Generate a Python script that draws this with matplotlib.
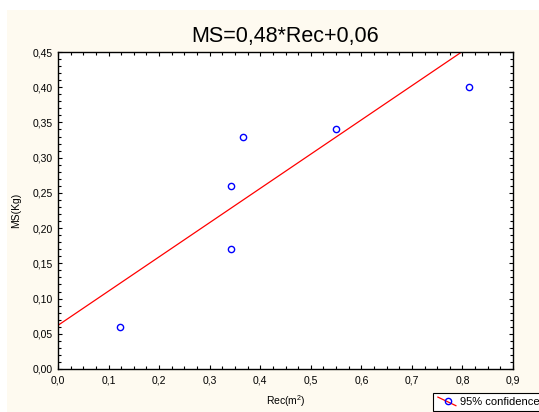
import matplotlib
matplotlib.use("Agg")
import matplotlib.pyplot as plt
import numpy as np
from matplotlib.legend_handler import HandlerBase
from matplotlib.lines import Line2D
from matplotlib.ticker import MultipleLocator, FuncFormatter

# data
rec = [0.123, 0.365, 0.342, 0.343, 0.549, 0.813]
ms = [0.060, 0.330, 0.260, 0.170, 0.340, 0.400]
# fitted line as drawn
slope = 0.486
intercept = 0.062
title = "MS=0,48*Rec+0,06"
legend_label = "95% confidence"

plt.rcParams["font.family"] = ["Liberation Sans", "DejaVu Sans"]
plt.rcParams["mathtext.default"] = "regular"


class DiagHandler(HandlerBase):
    # red diagonal line with a blue open circle, like the original legend key
    def create_artists(self, legend, orig, xd, yd, width, height, fontsize, trans):
        ln = Line2D([xd + 0.05 * width, xd + 0.95 * width],
                    [yd + height * 1.0, yd - height * 0.1],
                    color="red", lw=0.9, transform=trans)
        mk = Line2D([xd + 0.55 * width], [yd + 0.45 * height], marker="o",
                    ls="none", mfc="none", mec="blue", ms=4.5, mew=1.0,
                    transform=trans)
        return [ln, mk]


def comma(fmt):
    return FuncFormatter(lambda v, p: fmt.format(v).replace(".", ","))


def main():
    fig = plt.figure(figsize=(5.39, 4.12), dpi=100, facecolor="white")
    bg = plt.Rectangle((7 / 539, 0), 1, 1 - 10 / 412, transform=fig.transFigure,
                       facecolor="#FEFAF0", edgecolor="none", zorder=-10)
    fig.patches.append(bg)

    ax = fig.add_axes([58 / 539, 1 - 369 / 412, 455 / 539, 317 / 412])
    ax.set_facecolor("white")

    xs = np.array([0.0, 0.9])
    ax.plot(xs, slope * xs + intercept, color="red", lw=0.9)
    ax.plot(rec, ms, ls="none", marker="o", mfc="none", mec="blue",
            ms=4.5, mew=1.0)

    ax.set_xlim(0, 0.9)
    ax.set_ylim(0, 0.45)
    ax.xaxis.set_major_locator(MultipleLocator(0.1))
    ax.xaxis.set_minor_locator(MultipleLocator(0.025))
    ax.yaxis.set_major_locator(MultipleLocator(0.05))
    ax.yaxis.set_minor_locator(MultipleLocator(0.01))
    ax.xaxis.set_major_formatter(comma("{:.1f}"))
    ax.yaxis.set_major_formatter(comma("{:.2f}"))

    ax.tick_params(which="both", direction="in", top=True, right=True,
                   color="black", width=0.8)
    ax.tick_params(which="major", length=3, labelsize=7.5)
    ax.tick_params(which="minor", length=2)
    ax.tick_params(axis="x", pad=5)
    ax.tick_params(axis="y", pad=4)
    for s in ax.spines.values():
        s.set_linewidth(1.0)
        s.set_color("black")

    ax.set_title(title, fontsize=15.5, pad=7)
    ax.set_xlabel("Rec(m$^2$)", fontsize=7.5, labelpad=5)
    ax.set_ylabel("MS(Kg)", fontsize=7.5, labelpad=8)

    dummy = Line2D([], [])
    leg = fig.legend([dummy], [legend_label], handler_map={dummy: DiagHandler()},
                     loc="upper left", bbox_to_anchor=(433 / 539, 1 - 393 / 412),
                     borderaxespad=0, fontsize=8, fancybox=False, framealpha=1,
                     edgecolor="black", handlelength=1.8, handletextpad=0.3,
                     borderpad=0.35)
    leg.get_frame().set_linewidth(0.8)

    fig.savefig("out.png", dpi=100, facecolor="white")


if __name__ == "__main__":
    main()
